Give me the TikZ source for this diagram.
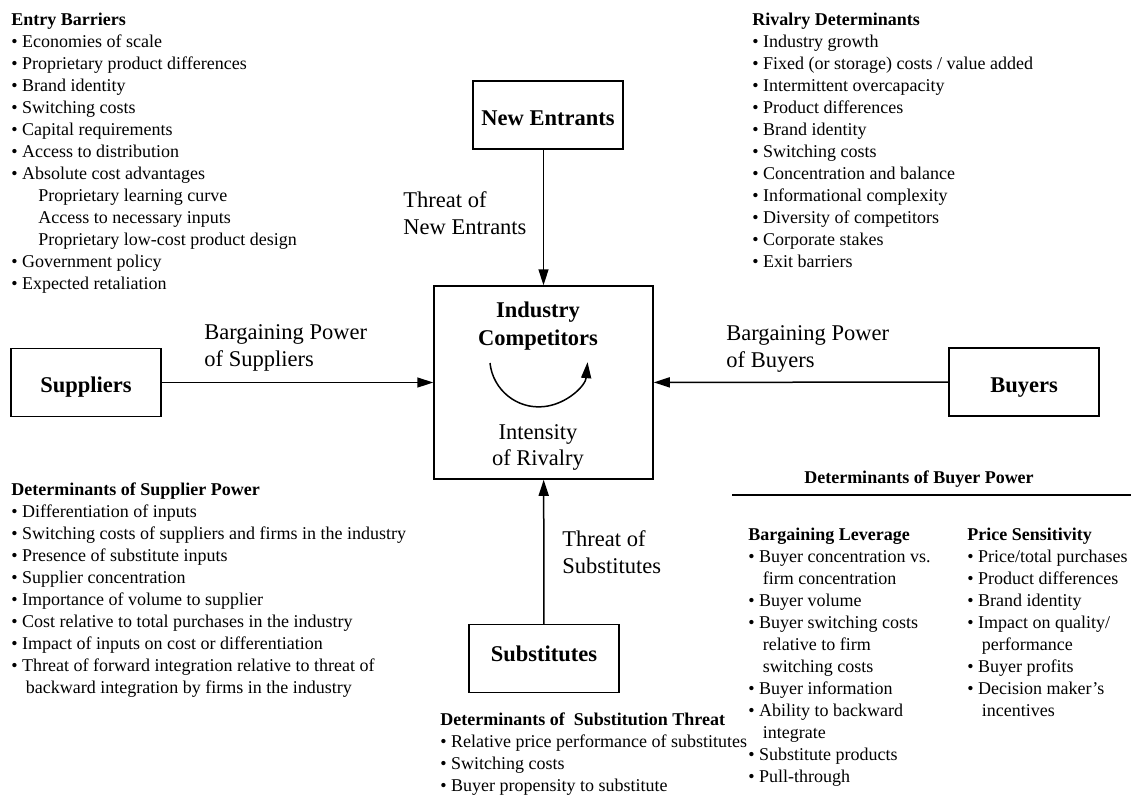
\documentclass[tikz,border=0pt]{standalone}
\usepackage{fontspec}
\setmainfont{Liberation Serif}
\usetikzlibrary{arrows.meta}

\newcommand{\listsize}{\fontsize{9}{11}\selectfont}
\newcommand{\forcesize}{\fontsize{11.25}{13.25}\selectfont}
\newcommand{\bul}{\textbullet\ }
\newcommand{\cont}{\hspace*{0.8em}}
\newcommand{\subitm}{\hspace*{1.5em}}

\begin{document}
\begin{tikzpicture}[
    x=0.5pt, y=-0.5pt,
    force/.style={rectangle, draw, line width=0.75pt, minimum width=75pt, minimum height=34pt,
        text height=10pt, text depth=0pt, font=\forcesize\bfseries},
    threat/.style={-{Triangle[length=8pt,width=5pt]}, line width=0.75pt},
    forcetext/.style={font=\forcesize, align=left, inner sep=0pt, anchor=north west},
    factors/.style={font=\listsize, align=left, inner sep=0pt, anchor=north west}
]
    \useasboundingbox (0,0) rectangle (1131,794);

    % the five forces
    \node[force, minimum width=109.5pt, minimum height=96.5pt] (rivals) at (543.5,382.5) {};
    \node[force] (entrants) at (548,115) {New Entrants};
    \node[force] (suppliers) at (86,382.5) {Suppliers};
    \node[force] (buyers) at (1024,382) {Buyers};
    \node[force, text height=7pt, text depth=4pt] (substitutes) at (544,658.5) {Substitutes};

    \node[font=\forcesize\bfseries, align=center] (compname) at (538,326) {Industry\\[0.75pt]Competitors};
    \node[font=\forcesize, align=center] (intensity) at (538,447.5) {Intensity\\of Rivalry};
    \coordinate (swirl) at (490,363);
    \draw[threat] (swirl) arc[start angle=186, end angle=355, radius=24.5pt];

    \draw[threat] (entrants.south -| rivals.north) -- (rivals.north);
    \draw[threat] (suppliers) -- (rivals);
    \draw[threat] (buyers) -- (rivals);
    \draw[threat] (substitutes) -- (rivals);

    \node[forcetext] (newthreat) at (403,191.5) {Threat of\\New Entrants};
    \node[forcetext] (supplierpow) at (204,324.5) {Bargaining Power\\of Suppliers};
    \node[forcetext] (buyerpow) at (726,325.5) {Bargaining Power\\of Buyers};
    \node[forcetext] (substhreat) at (562,530.5) {Threat of\\Substitutes};

    % determinants
    \node[factors] (barriers) at (11,12.6) {\textbf{Entry Barriers}\\
        \bul Economies of scale\\
        \bul Proprietary product differences\\
        \bul Brand identity\\
        \bul Switching costs\\
        \bul Capital requirements\\
        \bul Access to distribution\\
        \bul Absolute cost advantages\\
        \subitm Proprietary learning curve\\
        \subitm Access to necessary inputs\\
        \subitm Proprietary low-cost product design\\
        \bul Government policy\\
        \bul Expected retaliation};

    \node[factors] (rivalry) at (752,12.6) {\textbf{Rivalry Determinants}\\
        \bul Industry growth\\
        \bul Fixed (or storage) costs / value added\\
        \bul Intermittent overcapacity\\
        \bul Product differences\\
        \bul Brand identity\\
        \bul Switching costs\\
        \bul Concentration and balance\\
        \bul Informational complexity\\
        \bul Diversity of competitors\\
        \bul Corporate stakes\\
        \bul Exit barriers};

    \node[factors] (supplierdet) at (11,482.6) {\textbf{Determinants of Supplier Power}\\
        \bul Differentiation of inputs\\
        \bul Switching costs of suppliers and firms in the industry\\
        \bul Presence of substitute inputs\\
        \bul Supplier concentration\\
        \bul Importance of volume to supplier\\
        \bul Cost relative to total purchases in the industry\\
        \bul Impact of inputs on cost or differentiation\\
        \bul Threat of forward integration relative to threat of\\
        \cont backward integration by firms in the industry};

    \node[factors] (substdet) at (440,712.6) {\textbf{Determinants of\ \ Substitution Threat}\\
        \bul Relative price performance of substitutes\\
        \bul Switching costs\\
        \bul Buyer propensity to substitute};

    \node[font=\listsize\bfseries, anchor=base] (buyerdet) at (919,483) {Determinants of Buyer Power};
    \draw[line width=1pt] (732,495) -- (1131,495);

    \node[factors] (leverage) at (748,527.6) {\textbf{Bargaining Leverage}\\
        \bul Buyer concentration vs.\\
        \cont firm concentration\\
        \bul Buyer volume\\
        \bul Buyer switching costs\\
        \cont relative to firm\\
        \cont switching costs\\
        \bul Buyer information\\
        \bul Ability to backward\\
        \cont integrate\\
        \bul Substitute products\\
        \bul Pull-through};

    \node[factors] (sensitivity) at (967,527.6) {\textbf{Price Sensitivity}\\
        \bul Price/total purchases\\
        \bul Product differences\\
        \bul Brand identity\\
        \bul Impact on quality/\\
        \cont performance\\
        \bul Buyer profits\\
        \bul Decision maker's\\
        \cont incentives};
\end{tikzpicture}
\end{document}
